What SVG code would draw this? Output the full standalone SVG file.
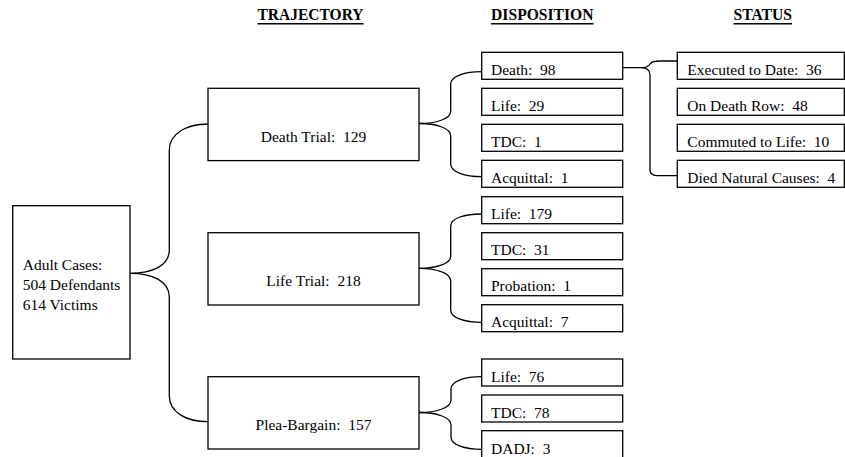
<svg xmlns="http://www.w3.org/2000/svg" width="845" height="457" viewBox="0 0 845 457">
<style>
.box{fill:#fff;stroke:#000;stroke-width:1.3}
.t{font-family:"Liberation Serif","Times New Roman",serif;font-size:15.5px;fill:#000;white-space:pre}
.c{text-anchor:middle}
.h{font-family:"Liberation Serif","Times New Roman",serif;font-size:16px;font-weight:bold;fill:#000}
.ul{stroke:#000;stroke-width:1.4}
.br{fill:none;stroke:#000;stroke-width:1.3}
</style>
<rect width="845" height="457" fill="#fff"/>
<g id="headers">
<text class="h" x="257.5" y="20" textLength="106" lengthAdjust="spacingAndGlyphs">TRAJECTORY</text>
<line class="ul" x1="257.5" y1="23.7" x2="363.5" y2="23.7"/>
<text class="h" x="491.1" y="20" textLength="102.4" lengthAdjust="spacingAndGlyphs">DISPOSITION</text>
<line class="ul" x1="491.1" y1="23.7" x2="593.5" y2="23.7"/>
<text class="h" x="733.5" y="20" textLength="58.5" lengthAdjust="spacingAndGlyphs">STATUS</text>
<line class="ul" x1="733.5" y1="23.7" x2="792" y2="23.7"/>
</g>
<g id="connectors">
<path class="br" d="M130,273.3 C152,273.3 169.3,266 169.3,250 L169.3,150 C169.3,134 186,124 208,124"/>
<path class="br" d="M130,273.3 C152,273.3 169.3,281 169.3,297 L169.3,396 C169.3,412 186,421.7 208,421.7"/>
<path class="br" d="M419,123.5 C436,123.5 450.7,119 450.7,111 L450.7,84 C450.7,76 465,71.7 481.7,71.7"/>
<path class="br" d="M419,123.5 C436,123.5 450.7,128 450.7,136 L450.7,164 C450.7,172 465,176.7 481.7,176.7"/>
<path class="br" d="M419,268.3 C436,268.3 450.7,264 450.7,256 L450.7,226 C450.7,218 465,214 481.7,214"/>
<path class="br" d="M419,268.3 C436,268.3 450.7,273 450.7,281 L450.7,310 C450.7,318 465,322.3 481.7,322.3"/>
<path class="br" d="M419,412.5 C436,412.5 451,408 451,400 L451,389 C451,381 465,376.7 481.7,376.7"/>
<path class="br" d="M419,412.5 C436,412.5 451,417 451,425 L451,437 C451,445 465,449.3 481.7,449.3"/>
<path class="br" d="M622.7,67.7 L641,67.7 C646,67.7 649,66 650.5,63.5 C652,61.5 655,61 660,61 L677.3,61"/>
<path class="br" d="M641,67.7 C647,67.7 650,70 650,75 L650,170 C650,174 653,175.7 658,175.7 L677.3,175.7"/>
</g>
<g id="adult">
<rect class="box" x="12.7" y="205.7" width="117.3" height="153.3"/>
<text class="t" x="22.7" y="269.8">Adult Cases:</text>
<text class="t" x="22.7" y="290.1">504 Defendants</text>
<text class="t" x="22.7" y="310.4">614 Victims</text>
</g>
<g id="death-trial">
<rect class="box" x="208" y="88.3" width="211" height="72.3"/>
<text class="t c" x="313.5" y="142.3" xml:space="preserve">Death Trial:  129</text>
</g>
<g id="life-trial">
<rect class="box" x="208" y="232.7" width="211" height="72.3"/>
<text class="t c" x="313.5" y="286.2" xml:space="preserve">Life Trial:  218</text>
</g>
<g id="plea-bargain">
<rect class="box" x="208" y="376.7" width="211" height="72.3"/>
<text class="t c" x="313.5" y="430.4" xml:space="preserve">Plea-Bargain:  157</text>
</g>
<g id="d-death">
<rect class="box" x="481.7" y="52.3" width="141" height="27"/>
<text class="t" x="491" y="75" xml:space="preserve">Death:  98</text>
</g>
<g id="d-life1">
<rect class="box" x="481.7" y="88.3" width="141" height="27"/>
<text class="t" x="491" y="111" xml:space="preserve">Life:  29</text>
</g>
<g id="d-tdc1">
<rect class="box" x="481.7" y="124.3" width="141" height="27"/>
<text class="t" x="491" y="147" xml:space="preserve">TDC:  1</text>
</g>
<g id="d-acq1">
<rect class="box" x="481.7" y="160.3" width="141" height="27"/>
<text class="t" x="491" y="183" xml:space="preserve">Acquittal:  1</text>
</g>
<g id="d-life2">
<rect class="box" x="481.7" y="196.7" width="141" height="27"/>
<text class="t" x="491" y="219.4" xml:space="preserve">Life:  179</text>
</g>
<g id="d-tdc2">
<rect class="box" x="481.7" y="232.7" width="141" height="27"/>
<text class="t" x="491" y="255.4" xml:space="preserve">TDC:  31</text>
</g>
<g id="d-prob">
<rect class="box" x="481.7" y="268.7" width="141" height="27"/>
<text class="t" x="491" y="291.4" xml:space="preserve">Probation:  1</text>
</g>
<g id="d-acq2">
<rect class="box" x="481.7" y="304.7" width="141" height="27"/>
<text class="t" x="491" y="327.4" xml:space="preserve">Acquittal:  7</text>
</g>
<g id="d-life3">
<rect class="box" x="481.7" y="359" width="141" height="27"/>
<text class="t" x="491" y="381.8" xml:space="preserve">Life:  76</text>
</g>
<g id="d-tdc3">
<rect class="box" x="481.7" y="395" width="141" height="27"/>
<text class="t" x="491" y="417.8" xml:space="preserve">TDC:  78</text>
</g>
<g id="d-dadj">
<rect class="box" x="481.7" y="430.7" width="141" height="28"/>
<text class="t" x="491" y="454" xml:space="preserve">DADJ:  3</text>
</g>
<g id="s-exec">
<rect class="box" x="677.3" y="52.3" width="167" height="27"/>
<text class="t" x="687.3" y="74.6" xml:space="preserve">Executed to Date:  36</text>
</g>
<g id="s-row">
<rect class="box" x="677.3" y="88.3" width="167" height="27"/>
<text class="t" x="687.3" y="110.6" xml:space="preserve">On Death Row:  48</text>
</g>
<g id="s-comm">
<rect class="box" x="677.3" y="124.3" width="167" height="27"/>
<text class="t" x="687.3" y="146.6" xml:space="preserve">Commuted to Life:  10</text>
</g>
<g id="s-died">
<rect class="box" x="677.3" y="160.3" width="167" height="27"/>
<text class="t" x="687.3" y="182.6" xml:space="preserve">Died Natural Causes:  4</text>
</g>
</svg>
